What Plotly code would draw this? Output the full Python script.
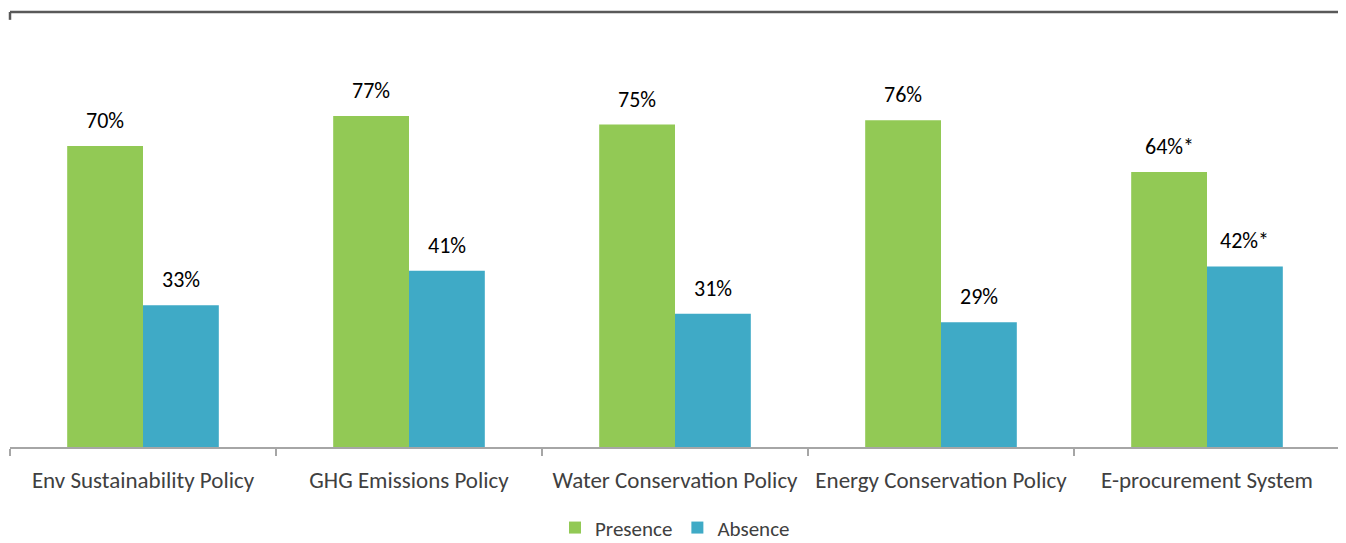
import plotly.graph_objects as go

categories = ["Env Sustainability Policy", "GHG Emissions Policy", "Water Conservation Policy",
              "Energy Conservation Policy", "E-procurement System"]
presence = [70, 77, 75, 76, 64]
absence = [33, 41, 31, 29, 42]
presence_labels = ["70%", "77%", "75%", "76%", "64%*"]
absence_labels = ["33%", "41%", "31%", "29%", "42%*"]

GREEN = "#92C955"
BLUE = "#3FAAC6"
FONT = "Carlito, Calibri, Lato, sans-serif"

fig = go.Figure()
fig.add_trace(go.Bar(x=categories, y=presence, name="Presence", marker_color=GREEN,
                     marker_line_width=0))
fig.add_trace(go.Bar(x=categories, y=absence, name="Absence", marker_color=BLUE,
                     marker_line_width=0))

bw = (1 - 0.43) / 2
for i, (p, a) in enumerate(zip(presence, absence)):
    fig.add_annotation(x=i - bw / 2, y=p, xref="x", yref="y", text=presence_labels[i],
                       showarrow=False, yanchor="bottom", yshift=10,
                       font=dict(size=22, color="#000000", family=FONT))
    fig.add_annotation(x=i + bw / 2, y=a, xref="x", yref="y", text=absence_labels[i],
                       showarrow=False, yanchor="bottom", yshift=10,
                       font=dict(size=22, color="#000000", family=FONT))

# top frame line with end ticks
fig.add_shape(type="line", xref="paper", yref="paper", x0=0, x1=1, y0=1, y1=1,
              line=dict(color="#595959", width=2.5))
fig.add_shape(type="line", xref="paper", yref="paper", x0=0, x1=0, y0=1, y1=0.982,
              line=dict(color="#595959", width=2.5))
fig.add_shape(type="line", xref="paper", yref="paper", x0=1, x1=1, y0=1, y1=0.982,
              line=dict(color="#595959", width=2.5))

fig.update_layout(
    width=1338, height=535,
    margin=dict(l=2, r=6, t=4, b=96, autoexpand=False),
    barmode="group", bargap=0.43, bargroupgap=0,
    plot_bgcolor="white", paper_bgcolor="white",
    font=dict(family=FONT, color="#404040", size=23),
    showlegend=True,
    legend=dict(orientation="h", x=0.5, xanchor="center", y=-0.186, yanchor="middle",
                font=dict(size=21, color="#404040"), itemwidth=30, traceorder="normal",
                tracegroupgap=0),
    xaxis=dict(showline=True, linecolor="#A6A6A6", linewidth=1.5, ticks="outside",
               tickson="boundaries", ticklen=7, tickcolor="#A6A6A6", tickwidth=1.5,
               ticklabelstandoff=12,
               tickfont=dict(size=23, color="#404040"), showgrid=False, automargin=False),
    yaxis=dict(range=[0, 101.2], visible=False, showgrid=False, zeroline=False),
)

fig.write_html("out.html")
